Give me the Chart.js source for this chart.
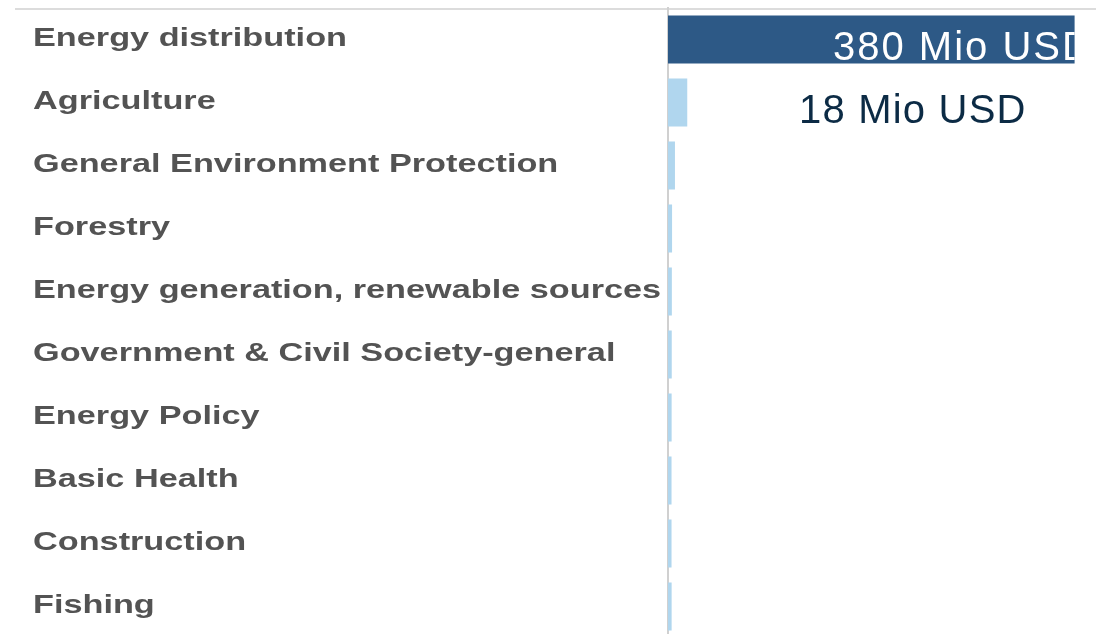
<!DOCTYPE html>
<html>
<head>
<meta charset="utf-8">
<title>Sectors</title>
<script src="https://cdn.jsdelivr.net/npm/chart.js@4/dist/chart.umd.min.js"></script>
<style>
  html, body { margin: 0; background: #fff; overflow: hidden; }
  #wrap { width: 1096px; height: 638px; }
</style>
</head>
<body>
<div id="wrap"><canvas id="sectorChart" width="1096" height="638"></canvas></div>
<script>
// Sectors and amounts (Mio USD)
const sectors = [
  "Energy distribution",
  "Agriculture",
  "General Environment Protection",
  "Forestry",
  "Energy generation, renewable sources",
  "Government & Civil Society-general",
  "Energy Policy",
  "Basic Health",
  "Construction",
  "Fishing"
];
const amounts = [380, 18, 6.5, 3.8, 3.6, 3.5, 3.4, 3.3, 3.3, 3.4];
const labelled = [0, 1]; // bars that get a value label
const unit = "Mio USD";

const darkBlue = "#2d5986";
const lightBlue = "#b0d6ee";
const barColors = amounts.map((v, i) => i === 0 ? darkBlue : lightBlue);

// thin rule along the top
const topRule = {
  id: "topRule",
  beforeDraw(chart) {
    const ctx = chart.ctx;
    ctx.save();
    ctx.strokeStyle = "#dcdcdc";
    ctx.lineWidth = 2;
    ctx.beginPath();
    ctx.moveTo(15, 9);
    ctx.lineTo(chart.width, 9);
    ctx.stroke();
    ctx.restore();
  }
};

// wide category names, placed on the y scale's tick positions
const wideTicks = {
  id: "wideTicks",
  afterDraw(chart) {
    const ctx = chart.ctx;
    const sc = chart.scales.y;
    ctx.save();
    ctx.font = "bold 25px 'Liberation Sans', Arial, sans-serif";
    ctx.fillStyle = "#535353";
    ctx.textAlign = "left";
    ctx.textBaseline = "alphabetic";
    ctx.filter = "blur(0.7px)";
    chart.data.labels.forEach((lab, i) => {
      ctx.save();
      ctx.translate(sc.left, sc.getPixelForTick(i) + 6.3);
      ctx.scale(1.37, 1);
      ctx.fillText(lab, 0, 0);
      ctx.restore();
    });
    ctx.restore();
  }
};

// value labels
const valueLabels = {
  id: "valueLabels",
  afterDatasetsDraw(chart) {
    const ctx = chart.ctx;
    const meta = chart.getDatasetMeta(0);
    const area = chart.chartArea;
    labelled.forEach(i => {
      const bar = meta.data[i];
      const txt = amounts[i] + " " + unit;
      ctx.save();
      ctx.font = "40px 'Liberation Sans', Arial, sans-serif";
      ctx.textAlign = "left";
      ctx.textBaseline = "alphabetic";
      if (i === 0) {
        // white text inside the big bar, cut off at its end
        const h = bar.height;
        ctx.beginPath();
        ctx.rect(bar.base, bar.y - h / 2, bar.x - bar.base, h);
        ctx.clip();
        ctx.letterSpacing = "2px";
        ctx.fillStyle = "#ffffff";
        ctx.fillText(txt, area.left + 165, bar.y + 20);
      } else {
        ctx.letterSpacing = "1.2px";
        ctx.fillStyle = "#0c2b45";
        ctx.fillText(txt, area.left + 131, bar.y + 20);
      }
      ctx.restore();
    });
  }
};

new Chart(document.getElementById("sectorChart"), {
  type: "bar",
  data: {
    labels: sectors,
    datasets: [{
      data: amounts,
      backgroundColor: barColors,
      borderWidth: 0,
      categoryPercentage: 1,
      barPercentage: 0.762
    }]
  },
  options: {
    indexAxis: "y",
    responsive: false,
    animation: false,
    layout: { padding: { left: 33, top: 8, right: 0, bottom: 0 } },
    plugins: {
      legend: { display: false },
      tooltip: { enabled: false }
    },
    scales: {
      x: { display: false, min: 0, max: 400 },
      y: {
        grid: { display: false, drawTicks: false },
        border: { display: true, color: "#d0d0d0", width: 2 },
        ticks: { display: false },
        afterFit(scale) {
          scale.width = 635;
          scale.paddingTop = 0;
          scale.paddingBottom = 0;
        }
      }
    }
  },
  plugins: [topRule, wideTicks, valueLabels]
});
</script>
</body>
</html>
